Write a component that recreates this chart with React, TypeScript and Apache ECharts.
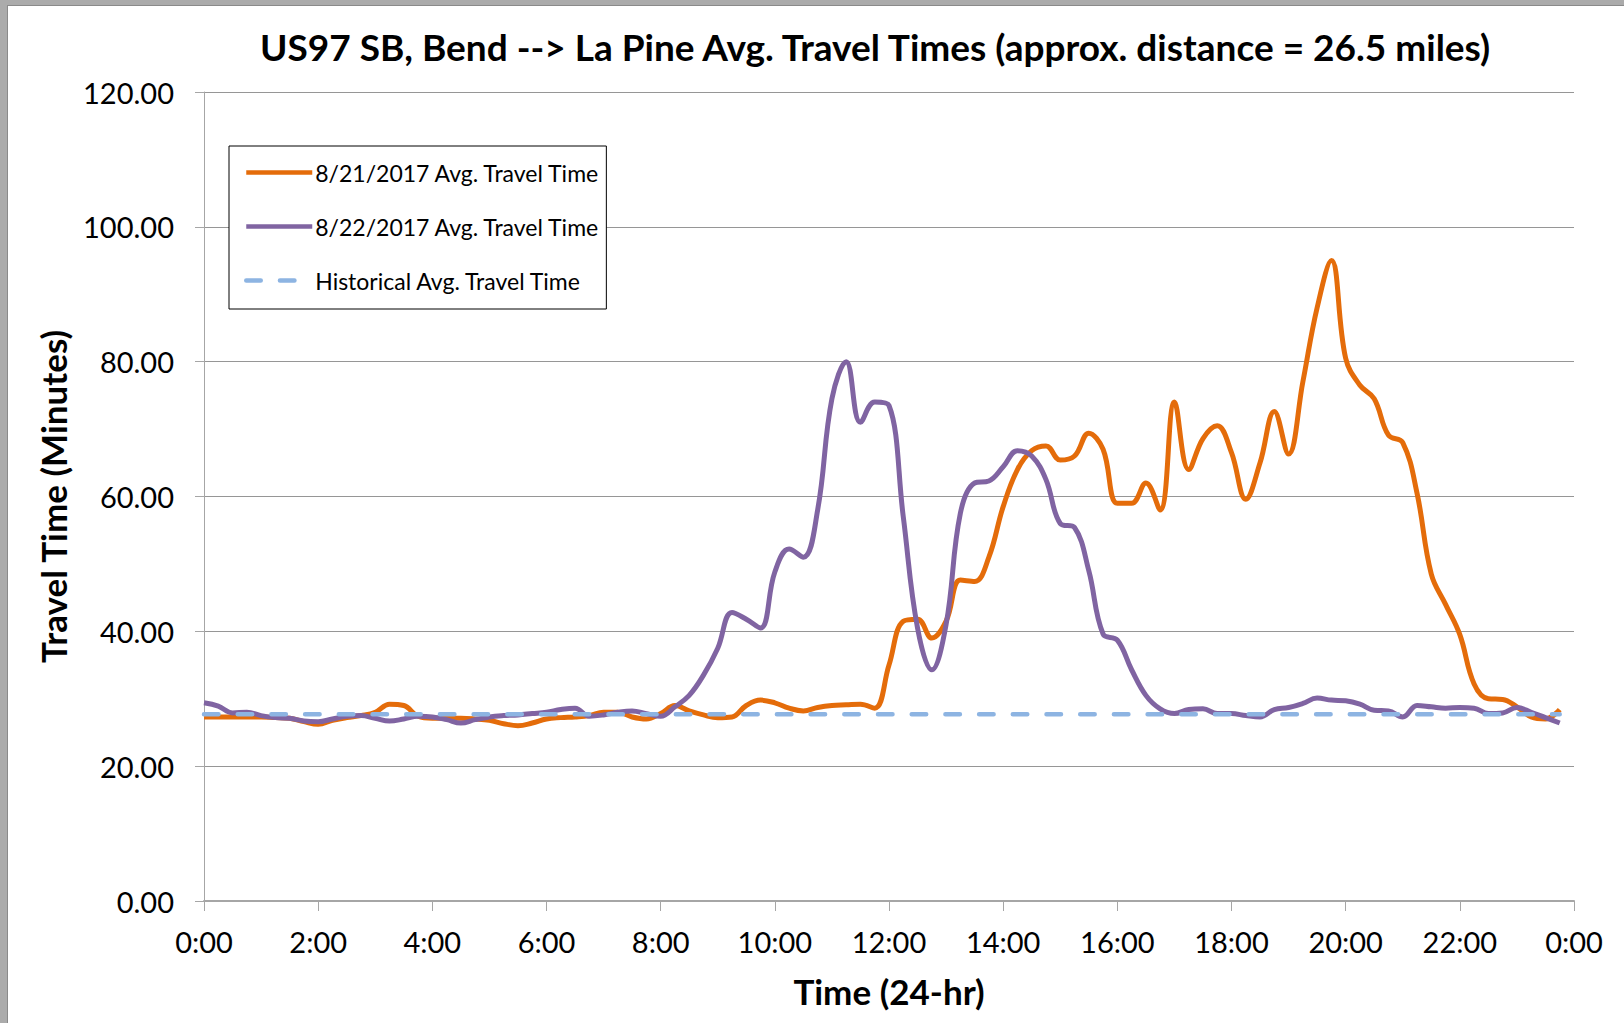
import React, { useEffect, useRef } from "react";
import * as echarts from "echarts";

// Sample times (hours of day, 15-minute samples)
const HOURS = [
  0, 0.25, 0.5, 0.75, 1, 1.25, 1.5, 1.75,
  2, 2.25, 2.5, 2.75, 3, 3.25, 3.5, 3.75,
  4, 4.25, 4.5, 4.75, 5, 5.25, 5.5, 5.75,
  6, 6.25, 6.5, 6.75, 7, 7.25, 7.5, 7.75,
  8, 8.25, 8.5, 8.75, 9, 9.25, 9.5, 9.75,
  10, 10.25, 10.5, 10.75, 11, 11.25, 11.5, 11.75,
  12, 12.25, 12.5, 12.75, 13, 13.25, 13.5, 13.75,
  14, 14.25, 14.5, 14.75, 15, 15.25, 15.5, 15.75,
  16, 16.25, 16.5, 16.75, 17, 17.25, 17.5, 17.75,
  18, 18.25, 18.5, 18.75, 19, 19.25, 19.5, 19.75,
  20, 20.25, 20.5, 20.75, 21, 21.25, 21.5, 21.75,
  22, 22.25, 22.5, 22.75, 23, 23.25, 23.5, 23.75,
];

// 8/21/2017 Avg. Travel Time (minutes)
const AUG21 = [
  27.3, 27.3, 27.3, 27.3, 27.3, 27.2, 27.1, 26.6,
  26.2, 26.8, 27.2, 27.5, 28.0, 29.2, 29.0, 27.4,
  27.1, 27.1, 27.1, 27.0, 26.8, 26.3, 26.0, 26.4,
  27.0, 27.2, 27.3, 27.5, 28.0, 28.0, 27.3, 27.0,
  27.8, 29.0, 28.2, 27.6, 27.2, 27.3, 29.0, 29.8,
  29.4, 28.6, 28.2, 28.7, 29.0, 29.1, 29.2, 28.6,
  35.0, 41.5, 41.8, 39.0, 41.5, 47.6, 47.4, 51.0,
  58.5, 64.0, 66.8, 67.5, 65.4, 66.0, 69.4, 67.0,
  59.0, 59.0, 62.0, 58.0, 74.0, 64.0, 68.6, 70.5,
  66.5, 59.6, 65.0, 72.6, 66.3, 77.0, 88.0, 95.0,
  80.5, 76.5, 74.5, 69.1, 68.0, 60.5, 48.5, 44.0,
  39.5, 32.2, 30.0, 29.9, 28.8, 27.3, 27.0, 28.4,
];

// 8/22/2017 Avg. Travel Time (minutes)
const AUG22 = [
  29.4, 28.9, 27.9, 28.0, 27.5, 27.2, 27.1, 26.7,
  26.6, 27.0, 27.4, 27.5, 27.1, 26.7, 27.0, 27.4,
  27.3, 26.9, 26.4, 26.9, 27.3, 27.5, 27.6, 27.8,
  28.0, 28.4, 28.6, 27.4, 27.6, 28.0, 28.2, 27.8,
  27.4, 28.8, 30.5, 33.5, 37.5, 42.8, 41.8, 40.5,
  48.8, 52.2, 51.0, 58.0, 74.5, 80.0, 71.0, 74.0,
  73.5, 57.0, 40.5, 34.3, 41.0, 57.5, 62.0, 62.3,
  64.4, 66.8, 66.0, 62.5, 56.0, 55.4, 49.0, 39.6,
  38.7, 34.3, 30.5, 28.5, 27.8, 28.4, 28.5, 27.8,
  27.8, 27.5, 27.3, 28.4, 28.7, 29.3, 30.1, 29.8,
  29.7, 29.2, 28.3, 28.2, 27.3, 29.0, 28.8, 28.6,
  28.7, 28.6, 27.8, 27.9, 28.7, 28.0, 27.2, 26.4,
];

// Historical Avg. Travel Time (minutes)
const HISTORICAL = [
  27.7, 27.7, 27.7, 27.7, 27.7, 27.7, 27.7, 27.7,
  27.7, 27.7, 27.7, 27.7, 27.7, 27.7, 27.7, 27.7,
  27.7, 27.7, 27.7, 27.7, 27.7, 27.7, 27.7, 27.7,
  27.7, 27.7, 27.7, 27.7, 27.7, 27.7, 27.7, 27.7,
  27.7, 27.7, 27.7, 27.7, 27.7, 27.7, 27.7, 27.7,
  27.7, 27.7, 27.7, 27.7, 27.7, 27.7, 27.7, 27.7,
  27.7, 27.7, 27.7, 27.7, 27.7, 27.7, 27.7, 27.7,
  27.7, 27.7, 27.7, 27.7, 27.7, 27.7, 27.7, 27.7,
  27.7, 27.7, 27.7, 27.7, 27.7, 27.7, 27.7, 27.7,
  27.7, 27.7, 27.7, 27.7, 27.7, 27.7, 27.7, 27.7,
  27.7, 27.7, 27.7, 27.7, 27.7, 27.7, 27.7, 27.7,
  27.7, 27.7, 27.7, 27.7, 27.7, 27.7, 27.7, 27.7,
];

const X_TICK_LABELS = [
  "0:00", "2:00", "4:00", "6:00", "8:00", "10:00", "12:00",
  "14:00", "16:00", "18:00", "20:00", "22:00", "0:00",
];

const SERIES_NAMES = [
  "8/21/2017 Avg. Travel Time",
  "8/22/2017 Avg. Travel Time",
  "Historical Avg. Travel Time",
];

const FONT = "Lato, 'Open Sans', sans-serif";

function pairs(values: number[]) {
  return HOURS.map((h, i) => [h, values[i]]);
}

export default function App() {
  const ref = useRef<HTMLDivElement>(null);

  useEffect(() => {
    document.body.style.margin = "0";
    const chart = echarts.init(ref.current!, null, { renderer: "svg" });
    chart.setOption({
      animation: false,
      backgroundColor: "#ffffff",
      textStyle: { fontFamily: FONT },
      title: {
        text: "US97 SB, Bend --> La Pine Avg. Travel Times (approx. distance = 26.5 miles)",
        left: 260,
        top: 28,
        padding: 0,
        textStyle: {
          fontFamily: FONT,
          fontWeight: "bold",
          fontSize: 37,
          color: "#000000",
        },
      },
      graphic: [
        { type: "rect", shape: { x: 0, y: 0, width: 1624, height: 5 }, style: { fill: "#ababab" }, z: 100 },
        { type: "rect", shape: { x: 0, y: 0, width: 7, height: 1023 }, style: { fill: "#ababab" }, z: 100 },
        { type: "line", shape: { x1: 7, y1: 5.5, x2: 1624, y2: 5.5 }, style: { stroke: "#8a8a8a", lineWidth: 1 }, z: 100 },
        { type: "line", shape: { x1: 7.5, y1: 5, x2: 7.5, y2: 1023 }, style: { stroke: "#8a8a8a", lineWidth: 1 }, z: 100 },
      ],
      legend: {
        orient: "vertical",
        left: 229,
        top: 146,
        padding: [15, 6, 17, 15],
        itemGap: 31,
        itemWidth: 66,
        itemHeight: 14,
        borderColor: "#000000",
        borderWidth: 1,
        backgroundColor: "#ffffff",
        data: SERIES_NAMES,
        itemStyle: { opacity: 0 },
        lineStyle: { width: 4.5 },
        textStyle: {
          fontFamily: FONT,
          fontSize: 23,
          color: "#000000",
          padding: [0, 0, 0, -2],
        },
      },
      grid: { left: 204, right: 50, top: 92, bottom: 122, containLabel: false },
      xAxis: {
        type: "value",
        min: 0,
        max: 24,
        interval: 2,
        name: "Time (24-hr)",
        nameLocation: "middle",
        nameGap: 72,
        nameTextStyle: { fontFamily: FONT, fontWeight: "bold", fontSize: 35, color: "#000000" },
        axisLine: { show: true, lineStyle: { color: "#a6a6a6", width: 2 } },
        axisTick: { show: true, length: 10, lineStyle: { color: "#a6a6a6", width: 1 } },
        axisLabel: {
          fontFamily: FONT,
          fontSize: 29,
          color: "#000000",
          margin: 26,
          formatter: (v: number) => X_TICK_LABELS[Math.round(v / 2)],
        },
        splitLine: { show: false },
      },
      yAxis: {
        type: "value",
        min: 0,
        max: 120,
        interval: 20,
        name: "Travel Time (Minutes)",
        nameLocation: "middle",
        nameGap: 134,
        nameTextStyle: { fontFamily: FONT, fontWeight: "bold", fontSize: 35, color: "#000000" },
        axisLine: { show: true, lineStyle: { color: "#a6a6a6", width: 1 } },
        axisTick: { show: true, inside: false, length: 9, lineStyle: { color: "#a6a6a6" } },
        axisLabel: {
          fontFamily: FONT,
          fontSize: 29,
          color: "#000000",
          margin: 30,
          formatter: (v: number) => v.toFixed(2),
        },
        splitLine: { show: true, lineStyle: { color: "#969696", width: 1 } },
      },
      series: [
        {
          name: SERIES_NAMES[0],
          type: "line",
          data: pairs(AUG21),
          symbol: "none",
          smooth: 0.4,
          lineStyle: { color: "#e46c0a", width: 5 },
          itemStyle: { color: "#e46c0a" },
          z: 2,
        },
        {
          name: SERIES_NAMES[1],
          type: "line",
          data: pairs(AUG22),
          symbol: "none",
          smooth: 0.4,
          lineStyle: { color: "#8064a2", width: 5 },
          itemStyle: { color: "#8064a2" },
          z: 3,
        },
        {
          name: SERIES_NAMES[2],
          type: "line",
          data: pairs(HISTORICAL),
          symbol: "none",
          lineStyle: { color: "#8db4e2", width: 4.5, type: [14.5, 19.2], cap: "round" },
          itemStyle: { color: "#8db4e2" },
          z: 4,
        },
      ],
    });
    return () => chart.dispose();
  }, []);

  return <div ref={ref} style={{ width: 1624, height: 1023 }} />;
}
